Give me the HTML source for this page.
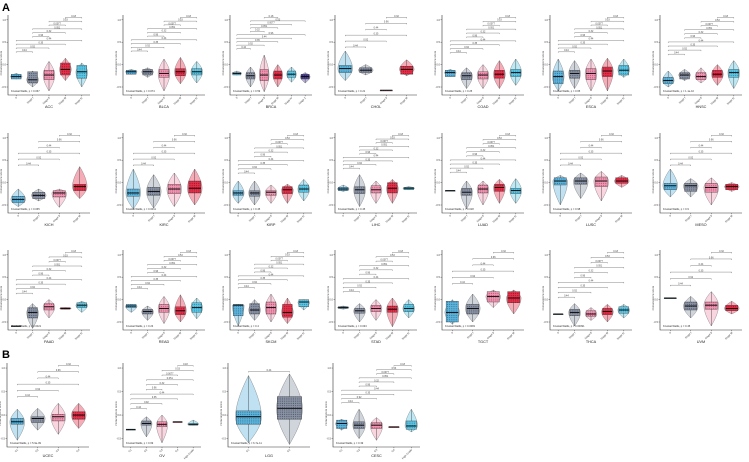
<!DOCTYPE html>
<html><head><meta charset="utf-8"><style>
html,body{margin:0;padding:0;background:#fff;}
svg{display:block;font-family:"Liberation Sans",sans-serif;}
</style></head><body>
<svg id="fig" width="749" height="462" viewBox="0 0 749 462">
<text x="2" y="11" font-size="11" font-weight="bold">A</text>
<text x="2" y="358" font-size="11" font-weight="bold">B</text>
</svg>
<script>
const panelNames=["ACC","BLCA","BRCA","CHOL","COAD","ESCA","HNSC","KICH","KIRC","KIRP","LIHC","LUAD","LUSC","MESO","PAAD","READ","SKCM","STAD","TGCT","THCA","UVM","UCEC","OV","LGG","CESC"];
const medians=[[23,19,25,32,29],[29,29,27,29,29],[27,24,25,25,26,23],[33,31,6,32],[28,24,25,26,28],[23,27,27,30,31],[18,25,23,26,28],
[17,22,25,33],[25,27,30,31],[25,25,26,29,30],[30,29,29,31,31],[28,26,30,32,28],[40,40,40,40],[34,34,32,33],
[5,22,29,27,31],[30,23,27,24,28],[31,25,28,22,35],[28,24,27,26,27],[22,27,42,40],[20,22,20,23,25],[40,30,31,27],
[30,34,36,38],[21,28,27,30,27],[36,46],[28,26,26,24,25]];
const q1s=[[20,15,19,25,21],[26,25,22,24,25],[25,20,18,20,22,20],[28,28,6,26],[23,19,20,21,23],[14,21,19,23,25],[14,20,19,22,22],
[13,18,20,28],[21,22,24,25],[22,21,22,24,26],[28,24,25,25,29],[28,22,25,27,24],[35,36,33,37],[29,27,26,29],
[5,15,25,26,28],[28,20,22,19,22],[18,20,20,16,29],[27,21,23,22,23],[10,20,35,34],[20,18,17,19,21],[40,25,26,24],
[27,29,31,33],[21,26,24,30,26],[27,33],[22,22,22,24,21]];
const q3s=[[26,29,31,40,37],[31,32,32,33,33],[28,28,32,30,30,26],[37,34,6,36],[31,28,29,31,32],[30,31,33,35,37],[22,28,28,31,32],
[21,26,28,36],[30,32,36,40],[28,28,28,33,35],[32,33,34,38,32],[28,31,35,36,31],[44,44,45,44],[37,37,37,36],
[5,28,33,28,34],[32,26,32,29,34],[32,33,35,32,38],[29,27,31,30,32],[36,32,48,48],[20,26,24,27,29],[40,35,35,31],
[34,36,39,42],[21,31,30,30,28],[43,60],[32,30,29,24,31]];
const vmins=[[20,10,5,18,10],[26,22,5,14,15],[25,10,4,10,16,15],[18,25,5.5,24],[23,8,8,8,12],[5,8,5,5,22],[10,18,15,12,8],
[8,15,7,18],[5,6,8,10],[12,10,12,12,15],[27,8,12,12,29],[28,5,10,12,12],[10,18,15,32],[20,20,10,27],
[4,2,15,26,22],[22,12,8,10,14],[5,12,10,8,25],[26,10,12,4,15],[7,10,28,20],[20,5,12,10,15],[40,15,5,20],
[8,20,15,22],[21,12,5,30,26],[5,3],[20,10,8,24,18]];
const vmaxs=[[27,30,42,46,40],[32,34,45,47,42],[30,35,50,38,35,28],[55,38,6.5,44],[32,34,38,43,45],[45,43,45,46,45],[30,32,34,38,43],
[30,30,30,58],[55,48,50,55],[40,40,35,36,42],[35,48,40,42,33],[28,40,40,42,43],[47,50,52,47],[55,43,44,38],
[5,33,38,28,36],[32,30,42,44,40],[32,38,45,40,38],[30,33,38,40,38],[38,45,50,50],[20,33,28,32,32],[40,42,48,36],
[45,46,52,52],[21,36,38,30,32],[85,87],[33,45,35,24,45]];
const kwLabels=["Kruskal-Wallis, p = 0.067","Kruskal-Wallis, p = 0.074","Kruskal-Wallis, p = 0.59","Kruskal-Wallis, p = 0.21","Kruskal-Wallis, p = 0.25","Kruskal-Wallis, p = 0.65","Kruskal-Wallis, p = 1.1e-10",
"Kruskal-Wallis, p = 0.065","Kruskal-Wallis, p = 0.0011","Kruskal-Wallis, p = 0.45","Kruskal-Wallis, p = 0.45","Kruskal-Wallis, p = 0.018","Kruskal-Wallis, p = 0.98","Kruskal-Wallis, p = 0.9",
"Kruskal-Wallis, p = 0.0021","Kruskal-Wallis, p = 0.23","Kruskal-Wallis, p = 0.4","Kruskal-Wallis, p = 0.033","Kruskal-Wallis, p = 0.0081","Kruskal-Wallis, p = 0.00091","Kruskal-Wallis, p = 0.45",
"Kruskal-Wallis, p = 5.9e-09","Kruskal-Wallis, p = 0.69","Kruskal-Wallis, p = 6.7e-11","Kruskal-Wallis, p = 0.39"];
const pLabels=["0.44","0.92","0.35","0.44","0.96","0.32","0.051","0.0077","0.53","0.18"];
const yTickLabels=["-0.5","0.0","0.5","1.0"];
const stageLabels=["0","Stage I","Stage II","Stage III","Stage IV","Stage X"];
const gradeLabels=["G1","G2","G3","G4","High Grade"];

const colX=[8,123,230,335,442,550,660];
const rowY=[15,133,250];
const bX=[7,123,228,333];
const bW=[82,78,82,87];
const colors=["#5fb4dc","#8a93a5","#f096b2","#e5304a","#5cc6e4","#4e4498"];
const dark=["#1f6486","#3b4354","#a0405f","#8a0a1c","#1d7a96","#241a5a"];
const svg=document.getElementById('fig');
const NS="http://www.w3.org/2000/svg";
function mk(tag,attrs,parent){const e=document.createElementNS(NS,tag);for(const k in attrs)e.setAttribute(k,attrs[k]);(parent||svg).appendChild(e);return e;}
const defs=mk('defs',{});
colors.forEach((c,i)=>{
  const p=mk('pattern',{id:'dots'+i,width:2.2,height:2.2,patternUnits:'userSpaceOnUse'},defs);
  mk('rect',{width:2.2,height:2.2,fill:c},p);
  mk('circle',{cx:0.8,cy:0.8,r:0.55,fill:dark[i],opacity:0.85},p);
});

panelNames.forEach((name,pi)=>{
  let x0,y0,w,h;
  if(pi<21){x0=colX[pi%7];y0=rowY[Math.floor(pi/7)];w=82;h=80;}
  else{x0=bX[pi-21];y0=363;w=bW[pi-21];h=84;}
  const g=mk('g',{});
  
  
  const yS=v=>y0+h-v/100*h;
  const n=medians[pi].length;
  const step=w/n;
  const xS=i=>x0+(i+0.5)*step;
  const ax=mk('path',{d:`M${x0},${y0} V${y0+h} H${x0+w}`,stroke:'#333',fill:'none','stroke-width':0.6},g);
  
  
  yTickLabels.forEach((t,ti)=>{
    const v=10+ti*28; const yy=yS(v);
    mk('line',{x1:x0-1.5,x2:x0,y1:yy,y2:yy,stroke:'#333','stroke-width':0.4},g);
    const tl=mk('text',{x:x0-2,y:yy+1,'font-size':2.6,'text-anchor':'end',fill:'#444'},g);tl.textContent=t;
    
    
  });
  const yt=mk('text',{x:0,y:0,'font-size':2.8,'text-anchor':'middle',fill:'#333',transform:`translate(${x0-6},${y0+h*0.6}) rotate(-90)`},g);
  yt.textContent='immunescore score';
  
  
  const labs=pi>=21?gradeLabels:stageLabels;
  for(let i=0;i<n;i++){
    const cx=xS(i), med=medians[pi][i], a=q1s[pi][i], b=q3s[pi][i], lo=vmins[pi][i], hi=vmaxs[pi][i];
    const ci=i%colors.length;
    const vw=Math.min(step*0.36,13), bw=Math.min(step*0.3,13);
    if(hi-lo>1){
      const d=`M${cx},${yS(hi)} C${cx+vw*0.5},${yS(hi-(hi-med)*0.3)} ${cx+vw},${yS(med+(hi-med)*0.3)} ${cx+vw},${yS(med)} C${cx+vw},${yS(med-(med-lo)*0.4)} ${cx+vw*0.3},${yS(lo+(med-lo)*0.2)} ${cx},${yS(lo)} C${cx-vw*0.3},${yS(lo+(med-lo)*0.2)} ${cx-vw},${yS(med-(med-lo)*0.4)} ${cx-vw},${yS(med)} C${cx-vw},${yS(med+(hi-med)*0.3)} ${cx-vw*0.5},${yS(hi-(hi-med)*0.3)} ${cx},${yS(hi)} Z`;
      const vi=mk('path',{d,fill:colors[ci],'fill-opacity':0.4,stroke:'#555','stroke-width':0.3},g);
      
      
      mk('line',{x1:cx,x2:cx,y1:yS(lo),y2:yS(hi),stroke:'#333','stroke-width':0.4},g);
    }
    const bh=Math.max(yS(a)-yS(b),0.8);
    const bx=mk('rect',{x:cx-bw,y:yS(b),width:bw*2,height:bh,fill:`url(#dots${ci})`,stroke:'#333','stroke-width':0.35},g);
    
    
    mk('line',{x1:cx-bw,x2:cx+bw,y1:yS(med),y2:yS(med),stroke:'#000','stroke-width':0.9},g);
    mk('line',{x1:cx,x2:cx,y1:y0+h,y2:y0+h+1.2,stroke:'#333','stroke-width':0.4},g);
    const xl=mk('text',{x:0,y:0,'font-size':2.6,'text-anchor':'end',fill:'#444',transform:`translate(${cx+1},${y0+h+3}) rotate(-45)`},g);
    xl.textContent=labs[i];
    
    
  }
  const pairs=[];
  if(n===2)pairs.push([0,1]);else for(let i=0;i<n;i++)for(let j=i+1;j<n;j++)pairs.push([i,j]);
  const maxV=Math.max(...vmaxs[pi]);
  const start=n===2?90:Math.min(maxV+8,60), end=97;
  const use=pairs.slice(0,10);
  use.forEach((pr,k)=>{
    const v=use.length>1?start+(end-start)*k/(use.length-1):start;
    const yy=yS(v);
    const br=mk('path',{d:`M${xS(pr[0])},${yy+1} V${yy} H${xS(pr[1])} V${yy+1}`,stroke:'#555',fill:'none','stroke-width':0.35},g);
    
    
    const pt=mk('text',{x:(xS(pr[0])+xS(pr[1]))/2,y:yy-0.6,'font-size':2.4,'text-anchor':'middle',fill:'#444'},g);
    pt.textContent=pLabels[k%pLabels.length];
    
    
  });
  const kw=mk('text',{x:x0+3,y:y0+h-3,'font-size':2.6,fill:'#333'},g);
  kw.textContent=kwLabels[pi];
  
  
  const nt=mk('text',{x:x0+w/2,y:y0+h+(pi<21?13:10),'font-size':3.8,'text-anchor':'middle',fill:'#222'},g);
  nt.textContent=name;
  
  
});
</script>
</body></html>
